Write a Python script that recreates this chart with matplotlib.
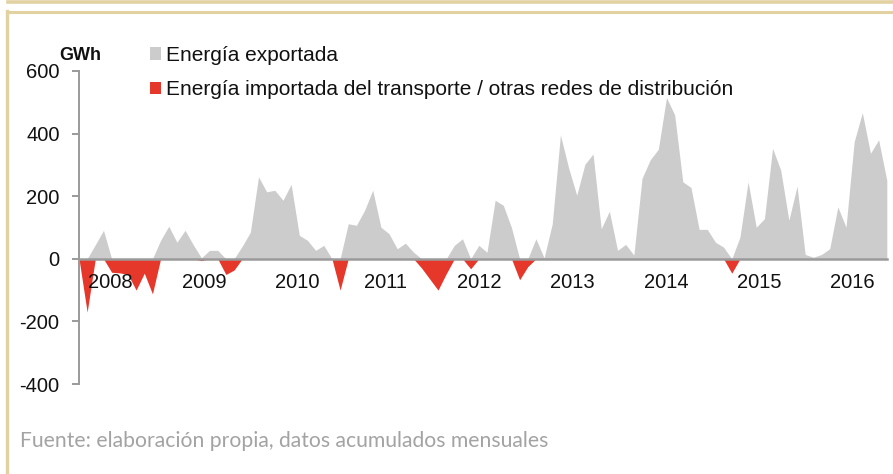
import matplotlib
matplotlib.use("Agg")
import matplotlib.pyplot as plt
from matplotlib.patches import Patch
from matplotlib.lines import Line2D
import numpy as np

# ---- data (GWh, monthly) ----
exported = [0, 0, 45, 91, 0, 0, 0, 0, 0, 0,
            59, 104, 53, 91, 45, 3, 27, 27, 0, 0,
            40, 85, 262, 214, 219, 187, 238, 75, 59, 27,
            43, 0, 0, 112, 107, 155, 219, 101, 80, 32,
            50, 21, 0, 0, 0, 0, 43, 64, 0, 43,
            21, 187, 171, 100, 0, 0, 64, 3, 112, 396,
            291, 203, 302, 335, 96, 152, 27, 46, 12, 257,
            316, 350, 515, 460, 246, 228, 94, 94, 53, 37,
            0, 69, 246, 101, 128, 353, 283, 123, 232, 14,
            5, 14, 32, 166, 101, 374, 467, 337, 380, 251]
imported = [0, -170, 0, 0, -43, -45, -50, -100, -46, -112,
            0, 0, 0, 0, 0, -6, 0, 0, -50, -36,
            0, 0, 0, 0, 0, 0, 0, 0, 0, 0,
            0, 0, -100, 0, 0, 0, 0, 0, 0, 0,
            0, 0, -30, -65, -100, -48, 0, 0, -32, 0,
            0, 0, 0, 0, -67, -25, 0, 0, 0, 0,
            0, 0, 0, 0, 0, 0, 0, 0, 0, 0,
            0, 0, 0, 0, 0, 0, 0, 0, 0, 0,
            -46, 0, 0, 0, 0, 0, 0, 0, 0, 0,
            0, 0, 0, 0, 0, 0, 0, 0, 0, 0]
year_labels = ["2008", "2009", "2010", "2011", "2012", "2013", "2014", "2015", "2016"]
year_positions = [3.8, 15.4, 26.7, 37.6, 49.0, 60.5, 72.0, 83.4, 94.8]
y_ticks = [-400, -200, 0, 200, 400, 600]
series_names = ["Energía exportada",
                "Energía importada del transporte / otras redes de distribución"]
unit_label = "GWh"
source_text = "Fuente: elaboración propia, datos acumulados mensuales"

GRAY = "#cccccc"
RED = "#e5372a"
AXIS = "#9a9a9a"
TAN = "#e2d2a2"

plt.rcParams["font.family"] = ["Liberation Sans", "DejaVu Sans"]

W, H = 893, 474
fig = plt.figure(figsize=(W / 100, H / 100), dpi=100)

x = np.arange(len(exported))
ax = fig.add_axes([79 / W, (H - 384) / H, (886.8 - 79) / W, 313 / H])
ax.fill_between(x, 0, exported, color=GRAY, lw=0, zorder=1)
ax.fill_between(x, 0, imported, color=RED, lw=0, zorder=1.1)
ax.set_xlim(0, len(exported) - 1)
ax.set_ylim(-400, 600)

for s in ("top", "right"):
    ax.spines[s].set_visible(False)
ax.spines["bottom"].set_position(("data", 0))
ax.spines["bottom"].set_color(AXIS)
ax.spines["bottom"].set_linewidth(1.8)
ax.spines["left"].set_color(AXIS)
ax.spines["left"].set_linewidth(1.4)
ax.spines["bottom"].set_zorder(3)

ax.set_yticks(y_ticks)
ax.set_yticklabels([str(v) for v in y_ticks])
ax.tick_params(axis="y", length=5, width=1.4, color=AXIS, labelsize=14.5,
               pad=9, labelcolor="#111111")
ax.set_xticks(year_positions)
ax.set_xticklabels(year_labels)
ax.tick_params(axis="x", length=0, labelsize=14.5, pad=10.5, labelcolor="#111111")
for lab in ax.get_xticklabels():
    lab.set_zorder(5)
ax.xaxis.set_zorder(4)

# unit label
fig.text(59 / W, 1 - 55 / H, unit_label, fontsize=13, fontweight="bold",
         ha="left", va="center", color="#111111")

# legend
handles = [Patch(facecolor=GRAY, edgecolor="none"), Patch(facecolor=RED, edgecolor="none")]
leg = fig.legend(handles, series_names, loc="upper left",
                 bbox_to_anchor=(150 / W, 1 - 46 / H), frameon=False,
                 fontsize=15, handlelength=0.55, handleheight=0.55,
                 handletextpad=0.2, labelspacing=0.74, borderpad=0, borderaxespad=0)
for t in leg.get_texts():
    t.set_color("#111111")

# source
fig.text(20 / W, 1 - 441 / H, source_text, fontsize=15.2, color="#a3a3a3",
         family=["Lato", "DejaVu Sans"], fontweight="normal", ha="left", va="center")

# decorative frame
fig.add_artist(Line2D([8 / W, 1], [1 - 1.5 / H, 1 - 1.5 / H], color=TAN, lw=2.6,
                      transform=fig.transFigure))
fig.add_artist(Line2D([6.5 / W, 1], [1 - 12.2 / H, 1 - 12.2 / H], color=TAN, lw=2.2,
                      transform=fig.transFigure))
fig.add_artist(Line2D([6.5 / W, 6.5 / W], [0, 1 - 11.2 / H], color=TAN, lw=2.4,
                      transform=fig.transFigure))

fig.savefig("out.png", dpi=100)
